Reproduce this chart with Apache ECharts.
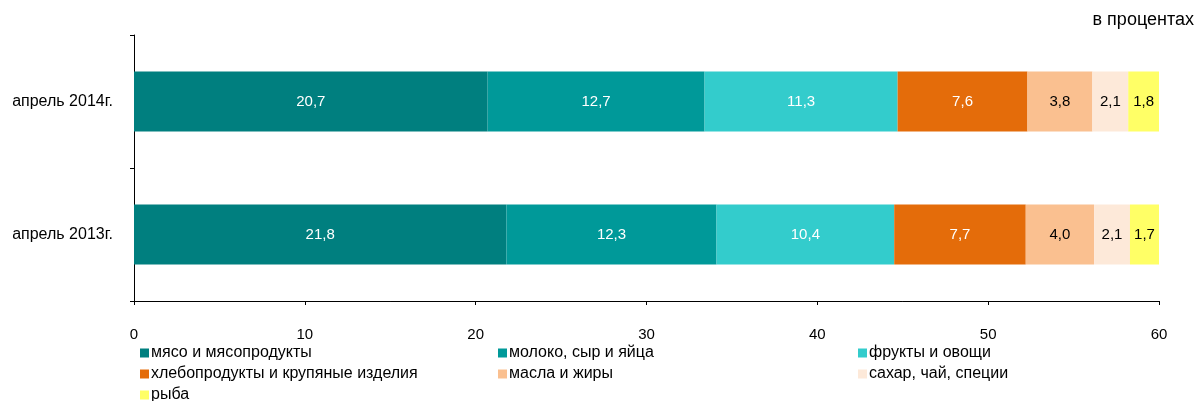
<!DOCTYPE html>
<html><head><meta charset="utf-8">
<script src="https://cdn.jsdelivr.net/npm/echarts@6/dist/echarts.min.js"></script>
<style>html,body{margin:0;padding:0;background:#fff}#c{width:1199px;height:401px}</style>
</head><body><div id="c"></div>
<script>
const categories = ['апрель 2014г.', 'апрель 2013г.'];
const seriesNames = ['мясо и мясопродукты', 'молоко, сыр и яйца', 'фрукты и овощи', 'хлебопродукты и крупяные изделия', 'масла и жиры', 'сахар, чай, специи', 'рыба'];
const meat = [20.7, 21.8];
const milk = [12.7, 12.3];
const fruit = [11.3, 10.4];
const bread = [7.6, 7.7];
const oil = [3.8, 4.0];
const sugar = [2.1, 2.1];
const fish = [1.8, 1.7];
const xTicks = [0, 10, 20, 30, 40, 50, 60];
const unitLabel = 'в процентах';

const values = [meat, milk, fruit, bread, oil, sugar, fish];
const colors = ['#007F7F', '#009999', '#33CCCC', '#E46C0A', '#FAC090', '#FDE9D9', '#FFFF66'];
const labelColors = ['#fff', '#fff', '#fff', '#fff', '#000', '#000', '#000'];
const FONT = '"Liberation Sans", Arial, sans-serif';

const chart = echarts.init(document.getElementById('c'));
const legendBase = {
  orient: 'vertical', top: 345, height: 80, padding: 0, itemWidth: 9, itemHeight: 9, itemGap: 5,
  icon: 'rect',
  textStyle: { fontFamily: FONT, fontSize: 16, color: '#000', lineHeight: 16, padding: [0, 0, 0, -3] }
};
chart.setOption({
  animation: false,
  textStyle: { fontFamily: FONT },
  grid: { left: 134, right: 40, top: 35, bottom: 100 },
  graphic: [{ type: 'text', right: 5, top: 11, style: { text: unitLabel, font: '18px ' + FONT, fill: '#000' } }],
  legend: [
    Object.assign({}, legendBase, { left: 140, data: [seriesNames[0], seriesNames[3], seriesNames[6]] }),
    Object.assign({}, legendBase, { left: 498, data: [seriesNames[1], seriesNames[4]] }),
    Object.assign({}, legendBase, { left: 858, data: [seriesNames[2], seriesNames[5]] })
  ],
  xAxis: {
    type: 'value', min: xTicks[0], max: xTicks[xTicks.length - 1], interval: 10,
    axisLine: { show: true, lineStyle: { color: '#000', width: 1 } },
    axisTick: { show: true, length: 4, lineStyle: { color: '#000' } },
    splitLine: { show: false },
    axisLabel: { color: '#000', fontSize: 15, fontFamily: FONT, margin: 26 }
  },
  yAxis: {
    type: 'category', data: categories, inverse: true,
    axisLine: { show: true, lineStyle: { color: '#000', width: 1 } },
    axisTick: { show: true, length: 4, lineStyle: { color: '#000' } },
    axisLabel: { color: '#000', fontSize: 16, fontFamily: FONT, margin: 21 }
  },
  series: seriesNames.map((n, i) => ({
    name: n, type: 'bar', stack: 'a', barWidth: 60,
    data: values[i],
    itemStyle: { color: colors[i] },
    label: {
      show: true, position: 'inside', color: labelColors[i], fontSize: 15, fontFamily: FONT,
      formatter: p => p.value.toFixed(1).replace('.', ',')
    }
  }))
});
</script></body></html>
